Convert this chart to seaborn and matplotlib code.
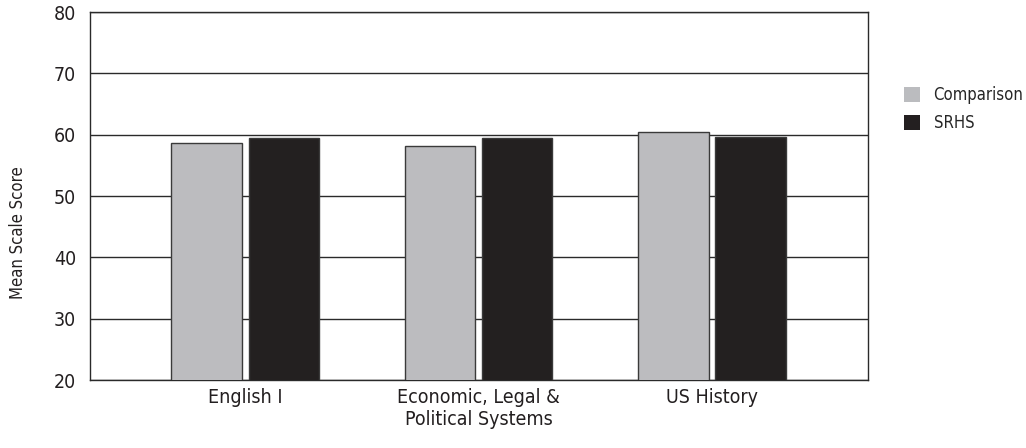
import pandas as pd
import matplotlib
matplotlib.use("Agg")
import matplotlib.pyplot as plt
import seaborn as sns
from matplotlib.patches import Patch

# data
subjects = ["English I", "Economic, Legal &\nPolitical Systems", "US History"]
groups = ["Comparison", "SRHS"]
comparison = [58.7, 58.2, 60.5]
srhs = [59.4, 59.4, 59.7]
yticks = [20, 30, 40, 50, 60, 70, 80]

df = pd.DataFrame({
    "subject": subjects * 2,
    "group": [groups[0]] * 3 + [groups[1]] * 3,
    "score": comparison + srhs,
})

sns.set_style("white")
plt.rcParams['font.family'] = ['DejaVu Sans']
plt.rcParams['font.stretch'] = 'condensed'

colors = {"Comparison": "#bbbcbf", "SRHS": "#231f20"}

fig = plt.figure(figsize=(10.26, 4.48), dpi=100)
ax = fig.add_axes([90 / 1026, 1 - 380 / 448, 778 / 1026, 368 / 448])

sns.barplot(data=df, x="subject", y="score", hue="group", palette=colors,
            width=0.66, gap=0.09, ax=ax, legend=False, zorder=3,
            edgecolor="#3a3a3a", linewidth=1.0)

ax.set_ylim(20, 80)
ax.set_xlim(-0.664, 2.668)
ax.set_yticks(yticks)
ax.yaxis.grid(True, color="#2a2a2a", linewidth=1.0, zorder=0)
ax.set_axisbelow(True)
for s in ax.spines.values():
    s.set_color("#2a2a2a")
    s.set_linewidth(1.0)
ax.tick_params(axis="both", length=0, labelsize=14, colors="#231f20")
ax.tick_params(axis="y", pad=10)
ax.tick_params(axis="x", pad=6)
ax.set_xlabel("")
ax.set_ylabel("Mean Scale Score", fontsize=12, color="#231f20")
ax.yaxis.set_label_coords(-0.081, 0.40)

handles = [Patch(facecolor=colors[g], edgecolor="none") for g in groups]
fig.legend(handles, groups, loc="upper left", bbox_to_anchor=(0.866, 0.842),
           frameon=False, fontsize=12, handlelength=1.0, handleheight=1.0,
           handletextpad=0.8, labelspacing=0.6)

fig.savefig("out.png", dpi=100)
